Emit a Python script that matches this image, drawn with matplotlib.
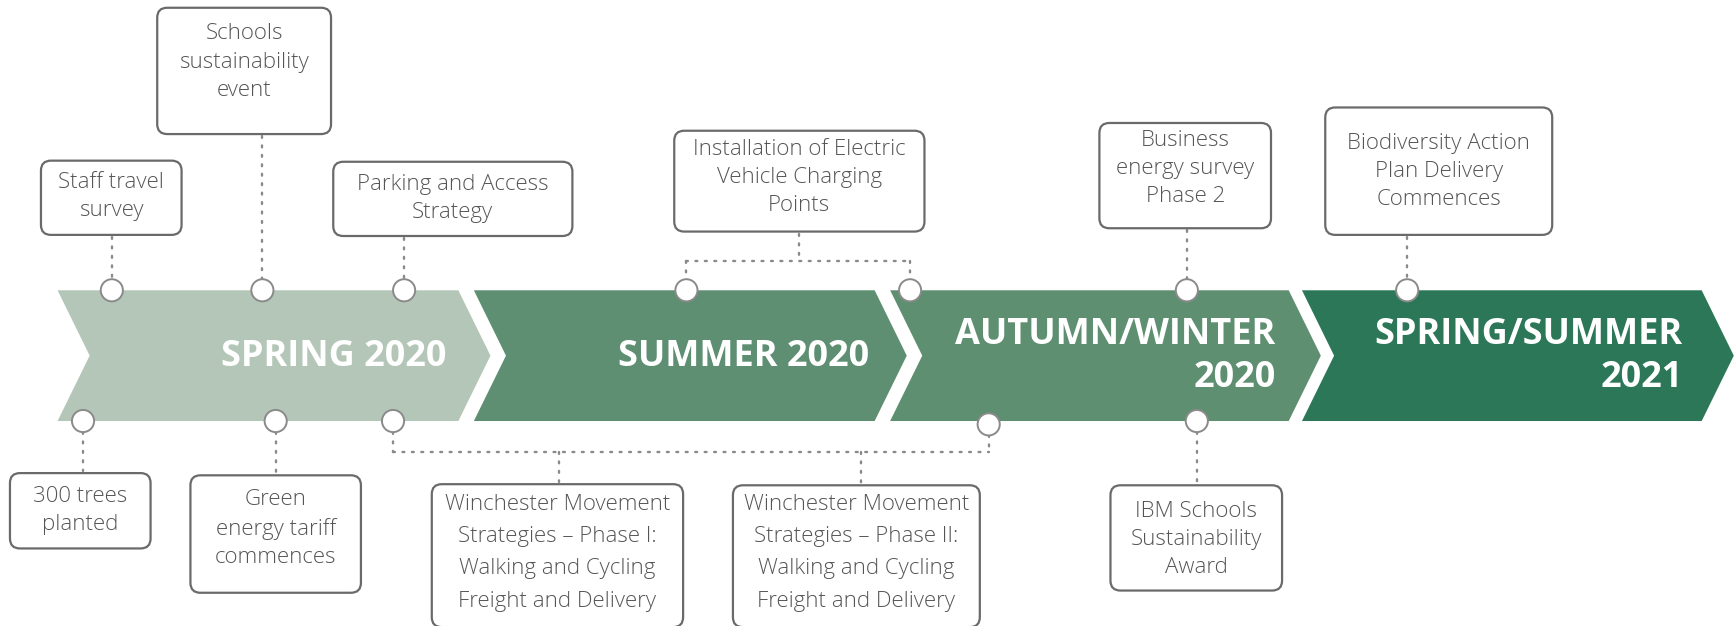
import matplotlib as mpl
import matplotlib.pyplot as plt
from matplotlib.patches import Polygon, FancyBboxPatch, Circle

mpl.rcParams['font.family'] = ['Open Sans', 'DejaVu Sans']

# phases along the arrow band
phases = ['SPRING 2020', 'SUMMER 2020', 'AUTUMN/WINTER\n2020', 'SPRING/SUMMER\n2021']
phase_colors = ['#b4c6b7', '#5e8f72', '#5f8f71', '#2b7757']

# events above the band
events_top = [
    'Staff travel\nsurvey',
    'Schools\nsustainability\nevent',
    'Parking and Access\nStrategy',
    'Installation of Electric\nVehicle Charging\nPoints',
    'Business\nenergy survey\nPhase 2',
    'Biodiversity Action\nPlan Delivery\nCommences',
]
# events below the band
events_bottom = [
    '300 trees\nplanted',
    'Green\nenergy tariff\ncommences',
    'Winchester Movement\nStrategies \u2013 Phase I:\nWalking and Cycling\nFreight and Delivery',
    'Winchester Movement\nStrategies \u2013 Phase II:\nWalking and Cycling\nFreight and Delivery',
    'IBM Schools\nSustainability\nAward',
]

# ---- layout (pixel space of a 1568x565 canvas) ----
BAND_TOP, BAND_BOT = 262, 380
BAND_MID = (BAND_TOP + BAND_BOT) / 2
phase_x = [(52, 414), (428, 790), (804, 1164), (1176, 1537)]
phase_text_x = [403, 785, 1152, 1520]
NOTCH = 29

top_boxes = [(37, 145, 164, 212), (142, 7, 299, 121), (301, 146, 517, 213),
             (609, 118, 835, 209), (993, 111, 1148, 206), (1197, 97, 1402, 212)]
top_text_y = [177, 56, 179, 160, 152, 155]
top_circles = [[101], [237], [365], [620, 822], [1072], [1271]]

bot_boxes = [(9, 427, 136, 495), (172, 429, 326, 535), (390, 437, 617, 566),
             (662, 438, 885, 566), (1003, 438, 1158, 533)]
bot_text_y = [461, 477, 499, 499, 487]
bot_circles = [75, 249, 355, 893, 1081]
R = 10

GREY = '#8a8a8a'
TXT = '#555555'
DOT = dict(color=GREY, lw=1.7, ls=(0, (0.8, 3.2)), dash_capstyle='round', zorder=1)

fig = plt.figure(figsize=(17.36, 6.26), dpi=100)
ax = fig.add_axes([0, 0, 1, 1])
ax.set_xlim(0, 1568)
ax.set_ylim(565, 0)
ax.axis('off')

# chevrons
for (x0, x1), col, lab, tx in zip(phase_x, phase_colors, phases, phase_text_x):
    pts = [(x0, BAND_TOP), (x1, BAND_TOP), (x1 + NOTCH, BAND_MID), (x1, BAND_BOT),
           (x0, BAND_BOT), (x0 + NOTCH, BAND_MID)]
    ax.add_patch(Polygon(pts, closed=True, fc=col, ec='none', zorder=0))
    ax.text(tx, BAND_MID + 1, lab, ha='right', va='center', color='white',
            fontsize=26, fontweight='bold', linespacing=1.25, zorder=3)


def box(x0, y0, x1, y1, label, ty, lsp=1.45):
    ax.add_patch(FancyBboxPatch((x0, y0), x1 - x0, y1 - y0,
                                boxstyle='round,pad=0,rounding_size=9',
                                fc='white', ec='#6a6a6a', lw=1.6, zorder=2))
    ax.text((x0 + x1) / 2, ty, label, ha='center', va='center',
            color=TXT, fontsize=16, fontweight='light', linespacing=lsp, zorder=3)


def node(x, y):
    ax.add_patch(Circle((x, y), R, fc='white', ec=GREY, lw=1.4, zorder=4))


# events above
for (x0, y0, x1, y1), lab, ty, cx in zip(top_boxes, events_top, top_text_y, top_circles):
    box(x0, y0, x1, y1, lab, ty)
    if len(cx) == 1:
        ax.plot([cx[0], cx[0]], [y1 + 2, BAND_TOP - R], **DOT)
    else:
        mx = (x0 + x1) / 2
        hy = 236
        ax.plot([mx, mx], [y1 + 2, hy], **DOT)
        ax.plot([cx[0], cx[-1]], [hy, hy], **DOT)
        for c in cx:
            ax.plot([c, c], [hy, BAND_TOP - R], **DOT)
    for c in cx:
        node(c, BAND_TOP)

# events below
for i, (b, lab, ty) in enumerate(zip(bot_boxes, events_bottom, bot_text_y)):
    box(*b, lab, ty, lsp=1.7 if i in (2, 3) else 1.45)

for i in (0, 1, 4):
    x0, y0, x1, y1 = bot_boxes[i]
    cx = bot_circles[i]
    ax.plot([cx, cx], [BAND_BOT + R, y0 - 2], **DOT)

# shared connector for the two movement strategy phases
hy = 408
c1, c2 = bot_circles[2], bot_circles[3]
ax.plot([c1, c1], [BAND_BOT + R, hy], **DOT)
ax.plot([c2, c2], [BAND_BOT + 3 + R, hy], **DOT)
ax.plot([c1, c2], [hy, hy], **DOT)
for bx, (x0, y0, x1, y1) in zip([505, 778], bot_boxes[2:4]):
    ax.plot([bx, bx], [hy, y0 - 2], **DOT)

for i, c in enumerate(bot_circles):
    node(c, BAND_BOT + (3 if i == 3 else 0))

fig.savefig('out.png', dpi=100)
